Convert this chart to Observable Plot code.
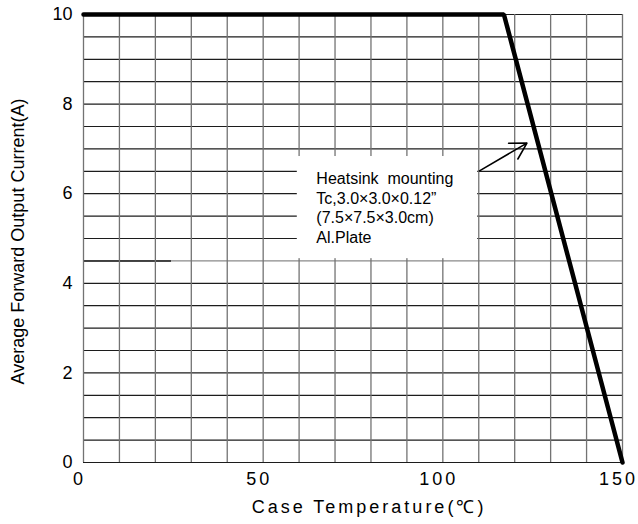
<!DOCTYPE html>
<html><head><meta charset="utf-8">
<script src="https://cdn.jsdelivr.net/npm/d3@7"></script>
<script src="https://cdn.jsdelivr.net/npm/@observablehq/plot@0.6"></script>
<style>
html,body{margin:0;padding:0;background:#fff;}
#chart svg{display:block;}
</style></head><body><div id="chart"></div>
<script>
// Derating curve
const caseTemp = [0, 117, 150];
const outputCurrent = [10, 10, 0];

// Axes
const xDomain = [0, 150];
const yDomain = [0, 10];
const xTickValues = [0, 50, 100, 150];
const yTickValues = [0, 2, 4, 6, 8, 10];
const xGridValues = [0, 10, 20, 30, 40, 50, 60, 70, 80, 90, 100, 110, 120, 130, 140, 150];
const yGridValues = [0, 0.5, 1, 1.5, 2, 2.5, 3, 3.5, 4, 4.5, 5, 5.5, 6, 6.5, 7, 7.5, 8, 8.5, 9, 9.5, 10];
const grayRowValues = [4.5];
const partialRowY = [4.5];
const partialRowX = [0, 24.5];
const xTitle = "Case Temperature(℃)";
const yTitle = "Average Forward Output Current(A)";

// Annotation
const noteBoxX = [59.5, 109.7];
const noteBoxY = [4.55, 6.83];
const noteLines = ["Heatsink  mounting", "Tc,3.0×3.0×0.12”", "(7.5×7.5×3.0cm)", "Al.Plate"];
const notePos = [64.8, 6.52];
const arrowFrom = [110.2, 6.51];
const arrowTo = [123.4, 7.13];

const curve = caseTemp.map((t, i) => ({t, a: outputCurrent[i]}));
const dark = "#1c1c1c", gray = "#737373";

const chart = Plot.plot({
  width: 638, height: 524,
  marginLeft: 83, marginRight: 16, marginTop: 14, marginBottom: 62,
  x: {domain: xDomain, axis: null},
  y: {domain: yDomain, axis: null},
  style: {fontFamily: "'Liberation Sans', Arial, sans-serif", background: "#fff", color: "#000", overflow: "visible"},
  marks: [
    Plot.ruleY(yGridValues.filter(v => !grayRowValues.includes(v)), {y: d => d, stroke: dark, strokeWidth: 1.2}),
    Plot.ruleY(grayRowValues, {y: d => d, stroke: "#8a8a8a", strokeWidth: 1.3}),
    Plot.ruleY(partialRowY, {y: d => d, x1: partialRowX[0], x2: partialRowX[1], stroke: dark, strokeWidth: 1.5}),
    Plot.ruleX(xGridValues, {x: d => d, stroke: gray, strokeWidth: 1.3}),
    Plot.rect([{x1: noteBoxX[0], x2: noteBoxX[1], y1: noteBoxY[0], y2: noteBoxY[1]}], {x1: "x1", x2: "x2", y1: "y1", y2: "y2", fill: "#fff"}),
    Plot.line(curve, {x: "t", y: "a", stroke: "#000", strokeWidth: 4.5, strokeLinejoin: "miter"}),
    Plot.arrow([{x1: arrowFrom[0], y1: arrowFrom[1], x2: arrowTo[0], y2: arrowTo[1]}], {x1: "x1", y1: "y1", x2: "x2", y2: "y2", stroke: "#000", strokeWidth: 1.6, headLength: 18, bend: 0}),
    Plot.text([{x: notePos[0], y: notePos[1], text: noteLines.join("\n")}], {x: "x", y: "y", text: "text", textAnchor: "start", lineAnchor: "top", lineHeight: 1.22, fontSize: 16, fill: "#000"}),
    Plot.text(xTickValues, {x: d => d, text: d => String(d), frameAnchor: "bottom", lineAnchor: "top", dy: 10, dx: -4, fontSize: 18, fill: "#000"}),
    Plot.text(yTickValues, {y: d => d, text: d => String(d), frameAnchor: "left", textAnchor: "end", dx: -11, fontSize: 18, fill: "#000"}),
    Plot.text([xTitle], {text: d => d, frameAnchor: "bottom", textAnchor: "middle", lineAnchor: "top", dy: 38, dx: 16, fontSize: 18, fill: "#000"}),
    Plot.text([yTitle], {text: d => d, frameAnchor: "left", textAnchor: "middle", rotate: -90, dx: -65, dy: 3, fontSize: 18, fill: "#000"})
  ]
});
document.getElementById("chart").appendChild(chart);

// letter-spacing for the x-axis texts (as in the reference)
const xTickStrings = xTickValues.map(String);
d3.select(chart).selectAll("g").each(function() {
  const texts = Array.from(this.children).filter(n => n.tagName === "text");
  if (texts.length === xTickStrings.length && texts.every((t, i) => t.textContent === xTickStrings[i])) {
    texts.forEach(t => t.style.letterSpacing = "3px");
  }
});
d3.select(chart).selectAll("text").each(function() {
  if (this.textContent === xTitle) this.style.letterSpacing = "3px";
  if (this.textContent.includes("Heatsink")) this.style.whiteSpace = "pre";
});
d3.select(chart).selectAll("tspan").each(function() {
  if (this.textContent.startsWith("Heatsink")) this.style.whiteSpace = "pre";
});
</script></body></html>
